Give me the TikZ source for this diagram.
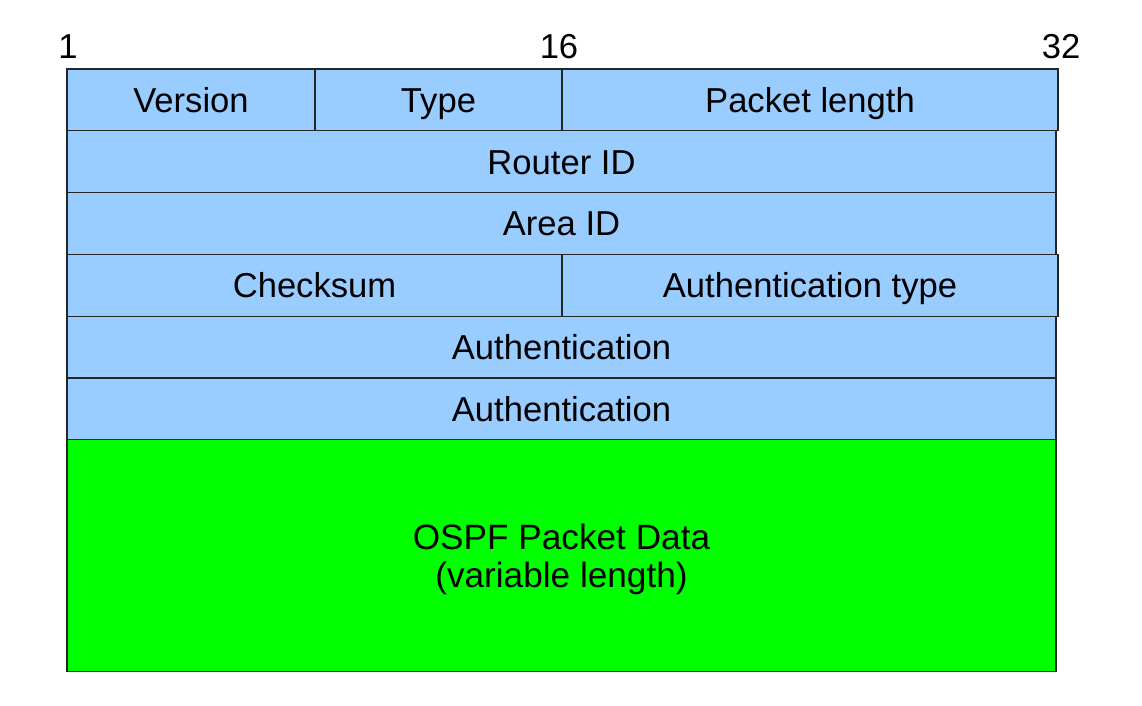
\documentclass[tikz,border=0pt]{standalone}
\usepackage{fontspec}
\setmainfont{Liberation Sans}
\usepackage{xcolor}
\usepackage{tikz}
\usetikzlibrary{positioning}
\definecolor{fieldblue}{HTML}{99CCFF}
\definecolor{datagreen}{HTML}{00FF00}
\tikzset{
    base/.style={draw=black!85, line width=0.6pt, font=\fontsize{17.3pt}{19pt}\selectfont, align=center, inner sep=0pt, outer sep=0pt},
    field/.style={base, rectangle, fill=fieldblue, minimum height=30.9pt, text height=12.4pt, text depth=0pt, anchor=north west},
    datafield/.style={base, rectangle, fill=datagreen, minimum height=116pt, font=\fontsize{17.6pt}{19pt}\selectfont, text height=31.4pt, text depth=0pt, anchor=north west},
    bitnum/.style={font=\fontsize{17.3pt}{19pt}\selectfont, inner sep=0pt, text height=12.4pt, text depth=0pt}
}

\begin{document}
\begin{tikzpicture}[x=0.5pt, y=-0.5pt]
    \useasboundingbox (0,0) rectangle (1142,706);

    \node [bitnum] (Bit1) at (68,46) {1};
    \node [bitnum] (Bit16) at (559,46) {16};
    \node [bitnum] (Bit32) at (1061,46) {32};

    \node [field, minimum width=124pt] (Version) at (67,69) {Version};
    \node [field, minimum width=123.5pt, right=0pt of Version] (Type) {Type};
    \node [field, minimum width=248pt, right=0pt of Type] (PacketLength) {Packet length};
    \node [field, minimum width=494.5pt, below=0pt of Version.south west, anchor=north west] (RouterID) {Router ID};
    \node [field, minimum width=494.5pt, below=0pt of RouterID.south west, anchor=north west] (AreaID) {Area ID};
    \node [field, minimum width=247.5pt, below=0pt of AreaID.south west, anchor=north west] (Checksum) {Checksum};
    \node [field, minimum width=248pt, right=0pt of Checksum] (AuthType) {Authentication type};
    \node [field, minimum width=494.5pt, below=0pt of Checksum.south west, anchor=north west] (AuthA) {Authentication};
    \node [field, minimum width=494.5pt, below=0pt of AuthA.south west, anchor=north west] (AuthB) {Authentication};
    \node [datafield, minimum width=494.5pt, below=0pt of AuthB.south west, anchor=north west] (PacketData) {OSPF Packet Data\\(variable length)};
\end{tikzpicture}
\end{document}
